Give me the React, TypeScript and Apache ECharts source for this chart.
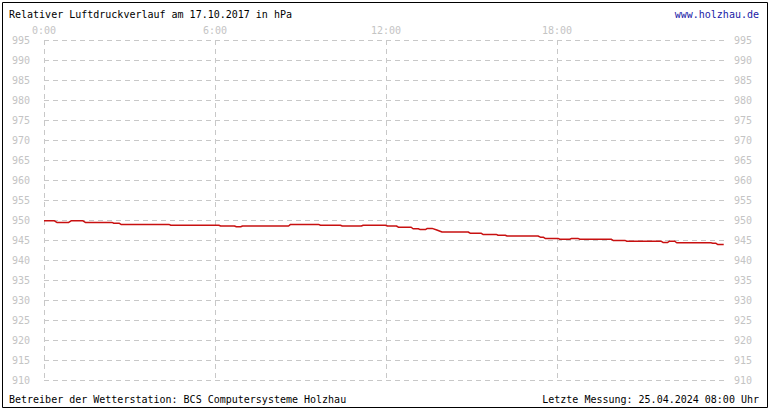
import { useEffect, useRef } from "react";
import * as echarts from "echarts";

// readings: minutes after midnight and relative pressure (hPa)
const minutes = [
  0, 22, 27, 52, 57, 82, 87, 143, 147, 158, 162, 263, 267, 368, 372, 401, 405,
  414, 418, 515, 519, 578, 582, 624, 628, 668, 672, 719, 723, 742, 746, 773,
  777, 788, 792, 803, 807, 817, 827, 838, 893, 897, 920, 924, 952, 956, 971,
  975, 1040, 1045, 1051, 1055, 1082, 1086, 1107, 1111, 1124, 1128, 1194, 1198,
  1223, 1227, 1299, 1303, 1313, 1317, 1328, 1332, 1404, 1408, 1414, 1418, 1431,
];
const pressure = [
  949.8, 949.8, 949.4, 949.4, 949.8, 949.8, 949.4, 949.4, 949.2, 949.2, 948.9,
  948.9, 948.7, 948.7, 948.5, 948.5, 948.3, 948.3, 948.5, 948.5, 948.9, 948.9,
  948.7, 948.7, 948.5, 948.5, 948.7, 948.7, 948.5, 948.5, 948.2, 948.2, 947.8,
  947.8, 947.6, 947.6, 947.9, 947.9, 947.5, 947.0, 947.0, 946.7, 946.7, 946.4,
  946.4, 946.2, 946.2, 946.0, 946.0, 945.7, 945.7, 945.4, 945.4, 945.2, 945.2,
  945.4, 945.4, 945.2, 945.2, 944.9, 944.9, 944.7, 944.7, 944.4, 944.4, 944.7,
  944.7, 944.3, 944.3, 944.2, 944.2, 943.9, 943.9,
];

const titleText = "Relativer Luftdruckverlauf am 17.10.2017 in hPa";
const linkText = "www.holzhau.de";
const footerLeft = "Betreiber der Wetterstation: BCS Computersysteme Holzhau";
const footerRight = "Letzte Messung: 25.04.2024 08:00 Uhr";

const MONO = "'DejaVu Sans Mono', 'Liberation Mono', monospace";
const GRID_GREY = "#c8c8c8";
const LABEL_GREY = "#c4c4c4";

const App = () => {
  const chartRef = useRef<HTMLDivElement>(null);

  useEffect(() => {
    const chart = echarts.init(chartRef.current, null, { renderer: "svg" });

    const yAxisBase = {
      type: "value",
      min: 910,
      max: 995,
      interval: 5,
      axisLine: { show: false },
      axisTick: { show: false },
      axisLabel: { color: LABEL_GREY, fontFamily: MONO, fontSize: 10 },
    };

    const options = {
      animation: false,
      backgroundColor: "#ffffff",
      grid: { left: 44, right: 42, top: 40, bottom: 30 },
      xAxis: {
        type: "value",
        position: "top",
        min: 0,
        max: 1440,
        interval: 360,
        axisLine: { show: false },
        axisTick: { show: false },
        axisLabel: {
          color: LABEL_GREY,
          fontFamily: MONO,
          fontSize: 10,
          margin: 5,
          showMaxLabel: false,
          formatter: (v: number) => `${Math.floor(v / 60)}:00`,
        },
        splitLine: {
          show: true,
          showMaxLine: false,
          lineStyle: { color: GRID_GREY, type: [5, 4], width: 1 },
        },
      },
      yAxis: [
        {
          ...yAxisBase,
          position: "left",
          axisLabel: { ...yAxisBase.axisLabel, margin: 14 },
          splitLine: {
            show: true,
            lineStyle: { color: GRID_GREY, type: [5, 4], width: 1 },
          },
        },
        {
          ...yAxisBase,
          position: "right",
          axisLabel: { ...yAxisBase.axisLabel, margin: 6 },
          splitLine: { show: false },
        },
      ],
      series: [
        {
          type: "line",
          data: minutes.map((m, i) => [m, pressure[i]]),
          showSymbol: false,
          symbol: "none",
          lineStyle: { color: "#c81010", width: 1.5 },
        },
      ],
      graphic: [
        {
          type: "rect",
          shape: { x: 2.5, y: 2.5, width: 765, height: 405 },
          style: { fill: "none", stroke: "#000000", lineWidth: 1 },
          silent: true,
        },
        {
          type: "text",
          x: 9,
          y: 14,
          style: {
            text: titleText,
            fill: "#000000",
            font: `10px ${MONO}`,
            textVerticalAlign: "middle",
          },
        },
        {
          type: "text",
          x: 759,
          y: 14,
          style: {
            text: linkText,
            fill: "#1a1aa6",
            font: `10px ${MONO}`,
            textAlign: "right",
            textVerticalAlign: "middle",
          },
        },
        {
          type: "text",
          x: 9,
          y: 399,
          style: {
            text: footerLeft,
            fill: "#000000",
            font: `10px ${MONO}`,
            textVerticalAlign: "middle",
          },
        },
        {
          type: "text",
          x: 759,
          y: 399,
          style: {
            text: footerRight,
            fill: "#000000",
            font: `10px ${MONO}`,
            textAlign: "right",
            textVerticalAlign: "middle",
          },
        },
      ],
    };

    chart.setOption(options);

    return () => {
      chart.dispose();
    };
  }, []);

  return (
    <div
      ref={chartRef}
      style={{ position: "absolute", left: 0, top: 0, width: 770, height: 410 }}
    />
  );
};

export default App;
